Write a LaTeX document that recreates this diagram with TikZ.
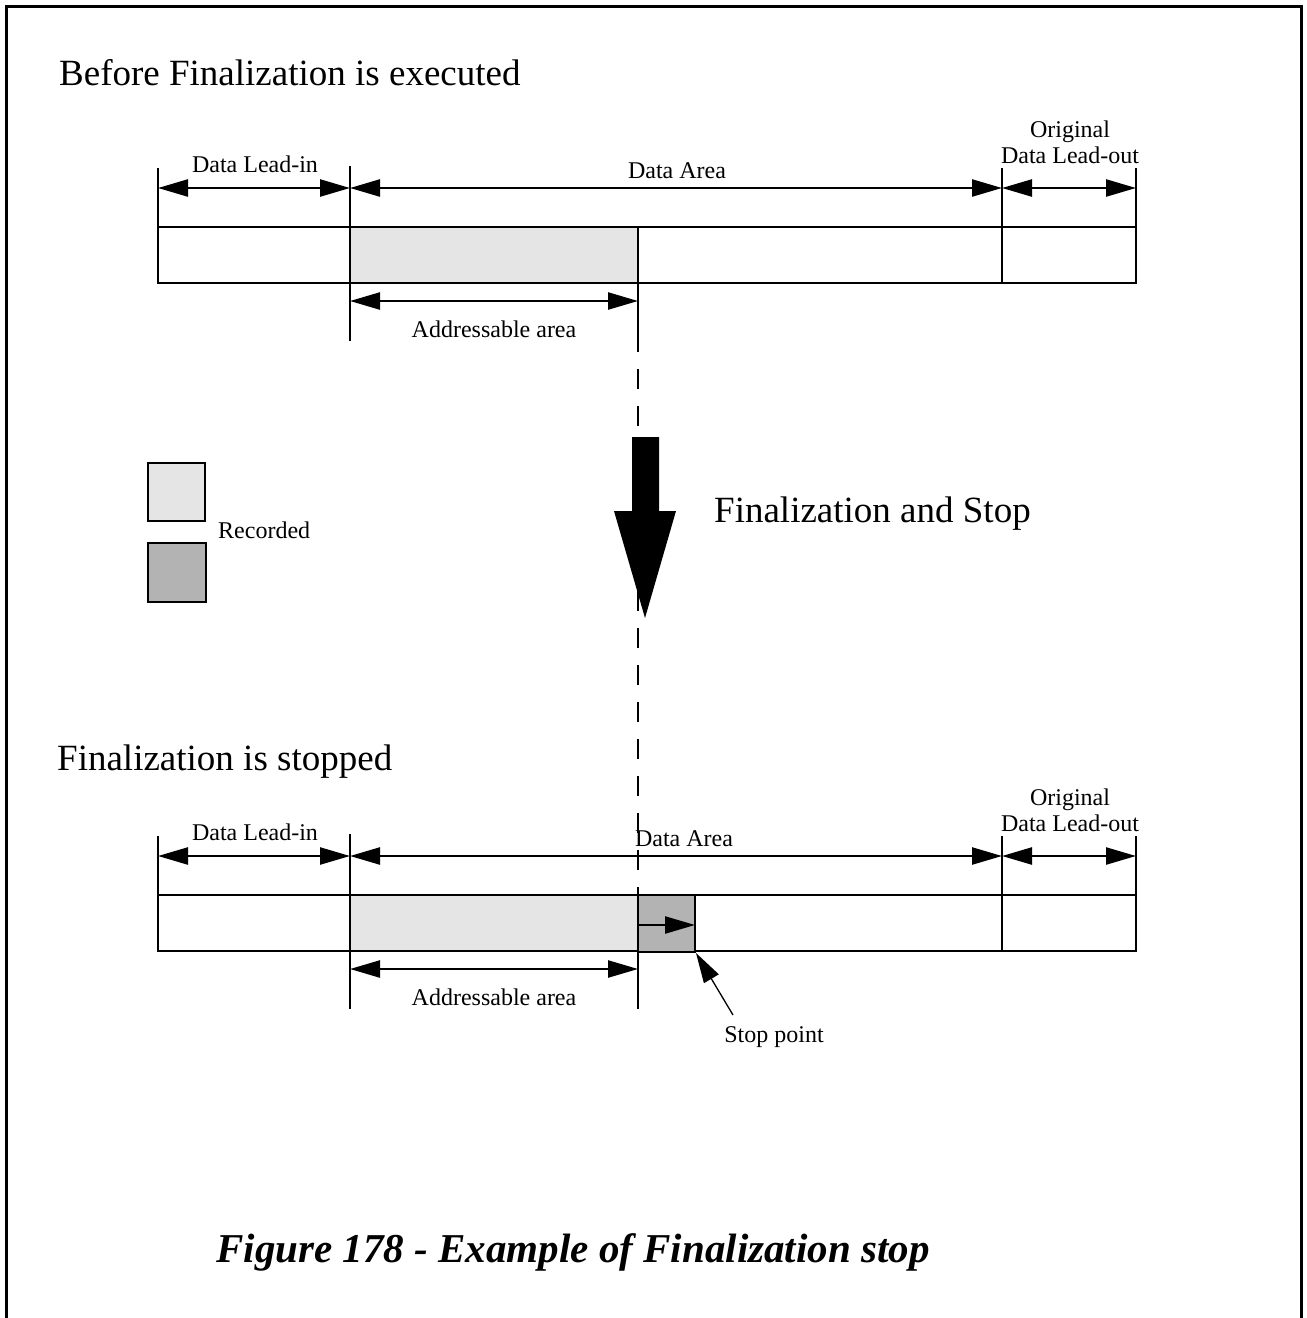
\documentclass[tikz,border=0pt]{standalone}
\usepackage{fontspec}
\setmainfont{Liberation Serif}
\usetikzlibrary{arrows.meta}
\definecolor{reclight}{HTML}{E5E5E5}
\definecolor{recdark}{HTML}{B3B3B3}
\begin{document}
\begin{tikzpicture}[x=1pt,y=-1pt,
  ln/.style={line width=2.4pt},
  tip/.tip={Triangle[length=30pt,width=17pt]},
  dim/.style={line width=2.4pt,tip-tip},
  oneway/.style={line width=2.4pt,-tip},
  small/.style={font=\fontsize{24}{28}\selectfont, inner sep=0pt},
  big/.style={font=\fontsize{37}{42}\selectfont, inner sep=0pt},
  captext/.style={font=\fontsize{41}{46}\selectfont\bfseries\itshape, inner sep=0pt}]
\useasboundingbox (0,0) rectangle (1307,1318);
% frame
\draw[line width=3pt] (6,1320) -- (6,6) -- (1301,6) -- (1301,1320);

\foreach \s/\n/\dx in {0/a/677,668/b/684}{
  % coordinates
  \coordinate (lt\n) at (158,168+\s);  \coordinate (lb\n) at (158,283+\s);
  \coordinate (bt\n) at (350,166+\s);  \coordinate (bb\n) at (350,341+\s);
  \coordinate (et\n) at (1002,168+\s); \coordinate (eb\n) at (1002,283+\s);
  \coordinate (ft\n) at (1136,168+\s); \coordinate (fb\n) at (1136,283+\s);
  \coordinate (ct\n) at (638,227+\s);  \coordinate (cb\n) at (638,341+\s);
  \coordinate (l1\n) at (158,188+\s);  \coordinate (b1\n) at (350,188+\s);
  \coordinate (e1\n) at (1002,188+\s); \coordinate (f1\n) at (1136,188+\s);
  \coordinate (b2\n) at (350,301+\s);  \coordinate (c2\n) at (638,301+\s);
  \coordinate (barnw\n) at (158,227+\s); \coordinate (barse\n) at (1136,283+\s);
  \coordinate (recnw\n) at (350,227+\s); \coordinate (recse\n) at (638,283+\s);
  % bar
  \fill[reclight] (recnw\n) rectangle (recse\n);
  \draw[ln] (barnw\n) rectangle (barse\n);
  % ticks
  \draw[ln] (lt\n) -- (lb\n);
  \draw[ln] (bt\n) -- (bb\n);
  \draw[ln] (et\n) -- (eb\n);
  \draw[ln] (ft\n) -- (fb\n);
  \draw[ln] (ct\n) -- (cb\n);
  % dimension arrows
  \draw[dim] (l1\n) -- (b1\n);
  \draw[dim] (b1\n) -- (e1\n);
  \draw[dim] (e1\n) -- (f1\n);
  \draw[dim] (b2\n) -- (c2\n);
  % labels
  \node[small,anchor=base] (leadin\n) at (255,172+\s) {Data Lead-in};
  \node[small,anchor=base] (area\n) at (\dx,178+\s) {Data Area};
  \node[small,anchor=base] (orig\n) at (1070,137+\s) {Original};
  \node[small,anchor=base] (leadout\n) at (1070,163+\s) {Data Lead-out};
  \node[small,anchor=base] (addr\n) at (494,337+\s) {Addressable area};
}

% titles
\node[big,anchor=base west] (title1) at (59,85) {Before Finalization is executed};
\node[big,anchor=base west] (title2) at (57,770) {Finalization is stopped};
\node[big,anchor=base west] (fstop) at (714,522) {Finalization and Stop};

% dashed guide line
\draw[line width=2.4pt,dash pattern=on 20pt off 17pt,dash phase=9pt] (cba) -- (ctb);

% big arrow
\fill (632,437) -- (659,437) -- (659,511) -- (676,511) -- (645,618) -- (614,511) -- (632,511) -- cycle;

% legend
\draw[line width=2.6pt,fill=reclight] (148,463) rectangle (205,521);
\draw[line width=2.6pt,fill=recdark] (148,543) rectangle (206,602);
\node[small,anchor=base west] (recorded) at (218,538) {Recorded};

% stop region in lower bar
\coordinate (snw) at (638,895); \coordinate (sse) at (695,952);
\draw[ln,fill=recdark] (snw) rectangle (sse);
\coordinate (ia) at (638,925); \coordinate (ib) at (695,925);
\draw[oneway] (ia) -- (ib);
\node[small,anchor=base] (stoppt) at (774,1042) {Stop point};
\coordinate (stail) at (733,1015); \coordinate (stip) at (696,953);
\draw[line width=1.3pt,-tip] (stail) -- (stip);

% caption
\node[captext,anchor=base] (caption) at (573,1262) {Figure 178 - Example of Finalization stop};
\end{tikzpicture}
\end{document}
